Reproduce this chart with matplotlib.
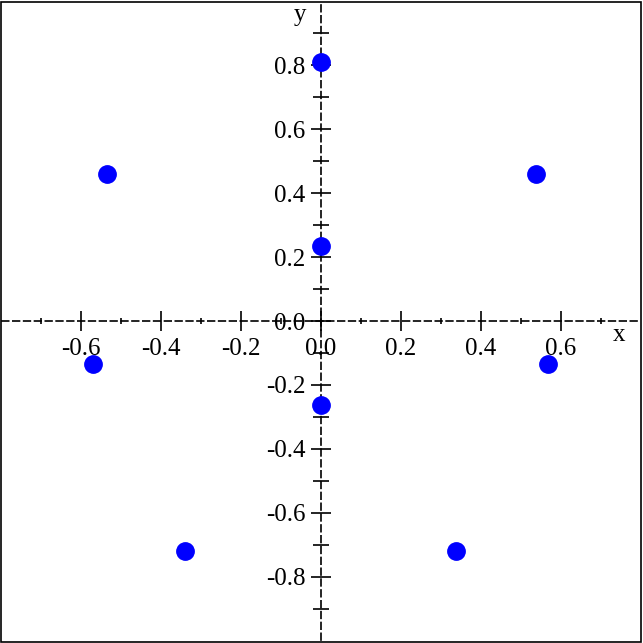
import numpy as np
import matplotlib
matplotlib.use("Agg")
import matplotlib.pyplot as plt
from matplotlib.patches import Rectangle
from matplotlib.ticker import FixedLocator, FuncFormatter

# point coordinates
x_pts = [0.0, -0.535, 0.537, 0.0, -0.57, 0.568, 0.0, -0.34, 0.337]
y_pts = [0.81, 0.46, 0.46, 0.233, -0.134, -0.134, -0.263, -0.72, -0.72]

x_major = [-0.6, -0.4, -0.2, 0.0, 0.2, 0.4, 0.6]
x_minor = [-0.7, -0.5, -0.3, -0.1, 0.1, 0.3, 0.5, 0.7]
y_major = [-0.8, -0.6, -0.4, -0.2, 0.0, 0.2, 0.4, 0.6, 0.8]
y_minor = [-0.9, -0.7, -0.5, -0.3, -0.1, 0.1, 0.3, 0.5, 0.7, 0.9]

DPI = 100
FS = 18
plt.rcParams["font.family"] = ["Liberation Serif", "DejaVu Serif"]

fig = plt.figure(figsize=(6.43, 6.43), dpi=DPI)
ax = fig.add_axes([2 / 643, 3 / 643, 638 / 643, 638 / 643])

ax.plot(x_pts, y_pts, "o", color="#0000ff", markersize=12.5, zorder=5,
        clip_on=False)

ax.set_xlim(-0.7975, 0.7975)
ax.set_ylim(-0.997, 0.997)

for side in ("top", "right"):
    ax.spines[side].set_visible(False)
for side in ("left", "bottom"):
    sp = ax.spines[side]
    sp.set_position(("data", 0))
    sp.set_linestyle((0, (4, 2.5)))
    sp.set_linewidth(1.2)

fmt = FuncFormatter(lambda v, p: f"{v:.1f}".replace("-0.0", "0.0"))
ax.xaxis.set_major_locator(FixedLocator(x_major))
ax.yaxis.set_major_locator(FixedLocator(y_major))
ax.xaxis.set_minor_locator(FixedLocator(x_minor))
ax.yaxis.set_minor_locator(FixedLocator(y_minor))
ax.xaxis.set_major_formatter(fmt)
ax.yaxis.set_major_formatter(fmt)

ax.tick_params(axis="both", which="major", direction="inout", length=14,
               width=1.2, labelsize=FS)
ax.tick_params(axis="x", which="minor", direction="inout", length=5, width=1.2)
ax.tick_params(axis="y", which="minor", direction="inout", length=11, width=1.2)
ax.tick_params(axis="x", which="major", pad=5)
ax.tick_params(axis="y", which="major", pad=4)

ax.text(0.745, -0.044, "x", fontsize=FS, ha="center", va="center")
ax.text(-0.0525, 0.955, "y", fontsize=FS, ha="center", va="center")

fig.patches.append(Rectangle((0.002, 0.002), 0.995, 0.995, transform=fig.transFigure,
                             fill=False, edgecolor="black", linewidth=1.2))

fig.savefig("out.png", dpi=DPI)
